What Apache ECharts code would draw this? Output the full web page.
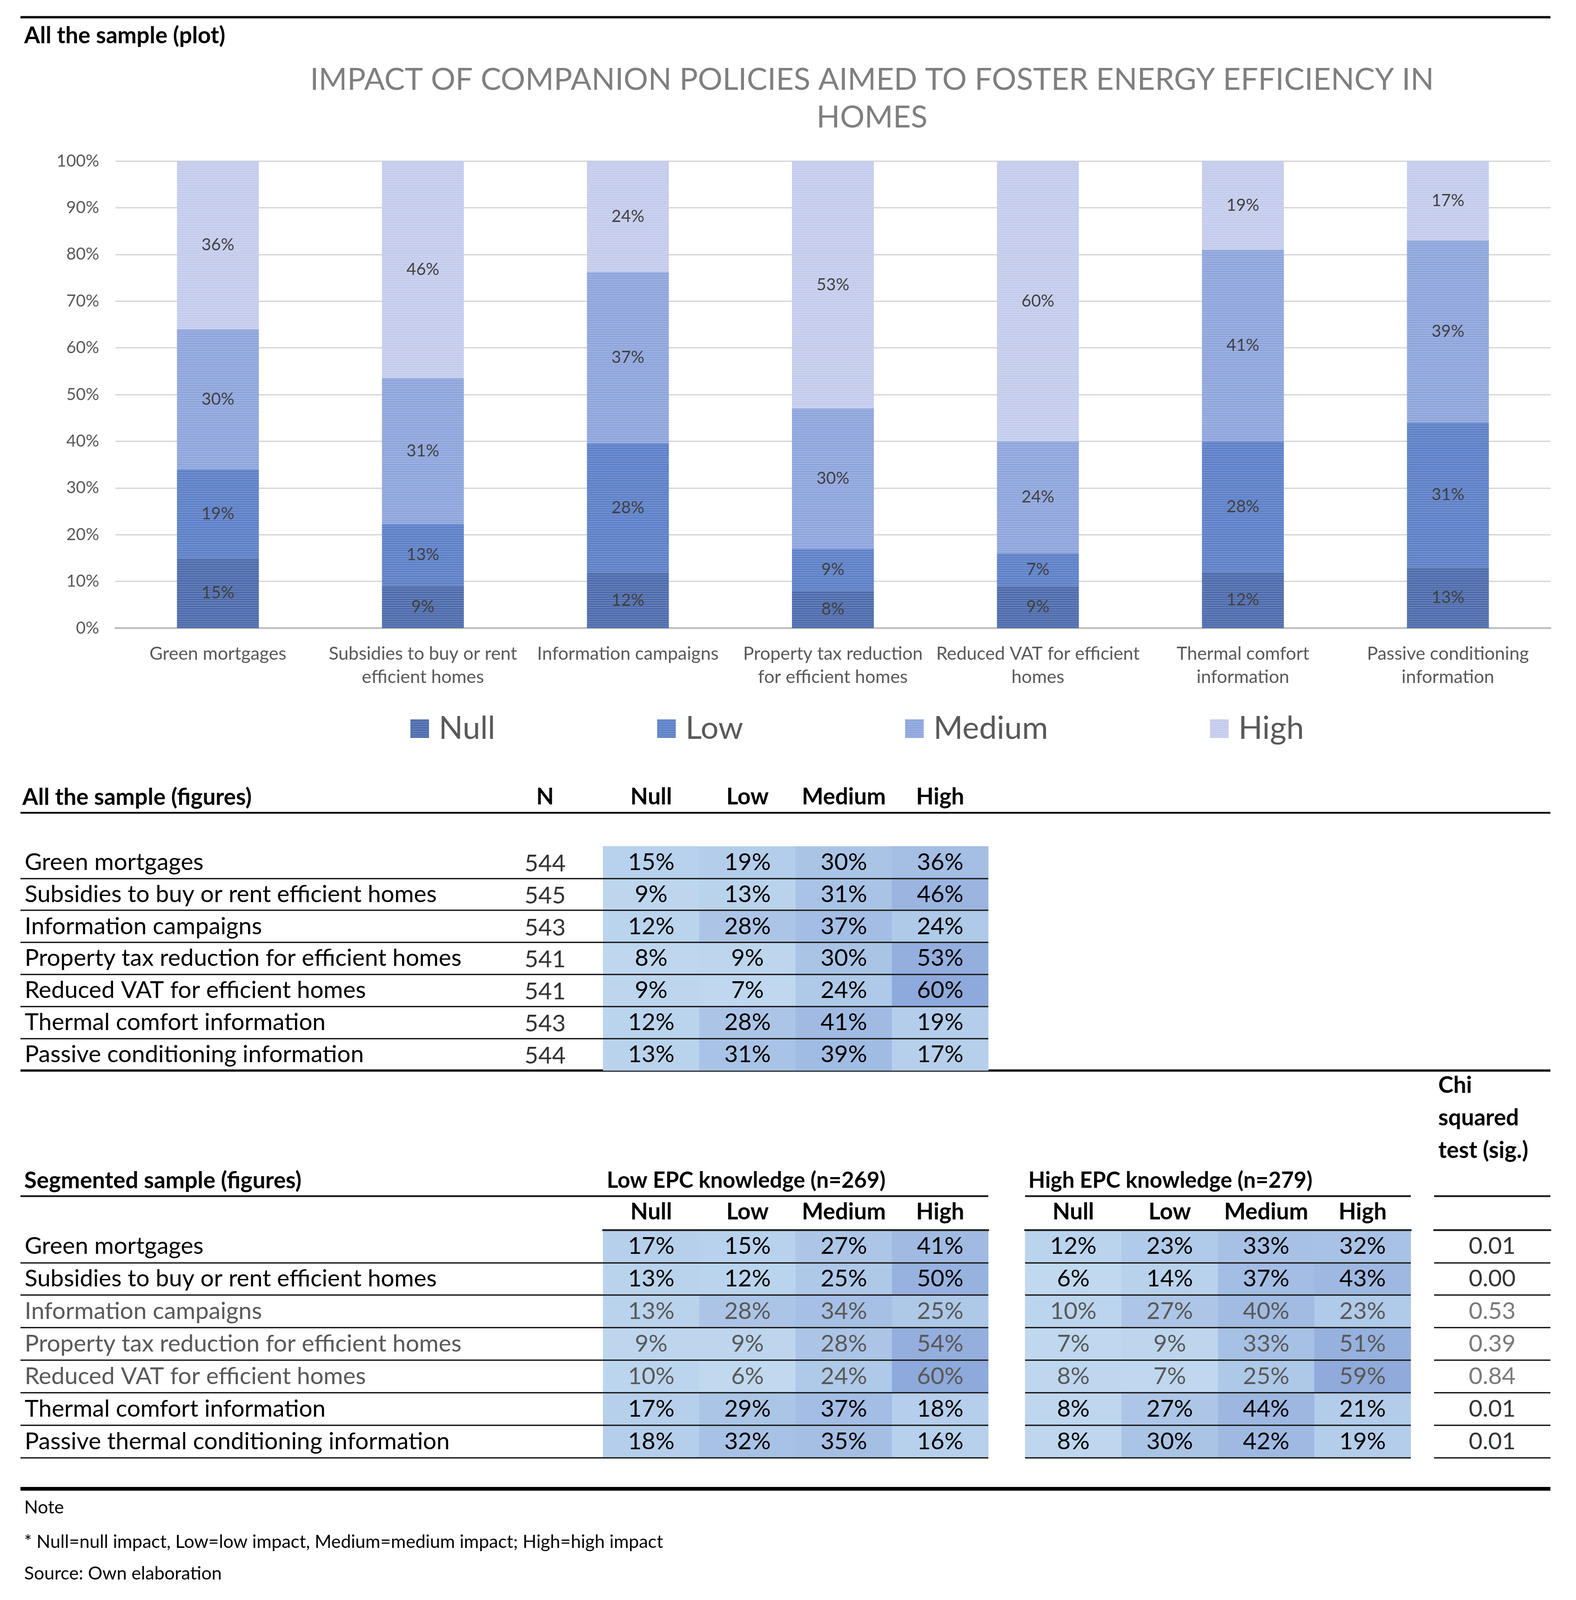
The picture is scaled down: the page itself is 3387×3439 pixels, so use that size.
<!DOCTYPE html>
<html><head><meta charset="utf-8">
<script src="https://cdn.jsdelivr.net/npm/echarts@6/dist/echarts.min.js"></script>
<style>html,body{margin:0;padding:0;background:#fff}#c{width:3387px;height:3439px}</style>
</head><body><div id="c"></div>
<script>
// ---------- DATA ----------
const chartCategories = ['Green mortgages','Subsidies to buy or rent efficient homes','Information campaigns','Property tax reduction for efficient homes','Reduced VAT for efficient homes','Thermal comfort information','Passive conditioning information'];
const chartTickLabels = ['Green mortgages','Subsidies to buy or rent\nefficient homes','Information campaigns','Property tax reduction\nfor efficient homes','Reduced VAT for efficient\nhomes','Thermal comfort\ninformation','Passive conditioning\ninformation'];
const levels = ['Null','Low','Medium','High'];
const yTicks = [0,10,20,30,40,50,60,70,80,90,100];
const allNull   = [15, 9,12, 8, 9,12,13];
const allLow    = [19,13,28, 9, 7,28,31];
const allMedium = [30,31,37,30,24,41,39];
const allHigh   = [36,46,24,53,60,19,17];
const allN      = [544,545,543,541,541,543,544];
const segRows = ['Green mortgages','Subsidies to buy or rent efficient homes','Information campaigns','Property tax reduction for efficient homes','Reduced VAT for efficient homes','Thermal comfort information','Passive thermal conditioning information'];
const lowEpcNull   = [17,13,13, 9,10,17,18];
const lowEpcLow    = [15,12,28, 9, 6,29,32];
const lowEpcMedium = [27,25,34,28,24,37,35];
const lowEpcHigh   = [41,50,25,54,60,18,16];
const highEpcNull   = [12, 6,10, 7, 8, 8, 8];
const highEpcLow    = [23,14,27, 9, 7,27,30];
const highEpcMedium = [33,37,40,33,25,44,42];
const highEpcHigh   = [32,43,23,51,59,21,19];
const chiSig = [0.01,0.00,0.53,0.39,0.84,0.01,0.01];

// ---------- STYLE ----------
const FONT = 'Lato, "Open Sans", sans-serif';
const barColors = ['#4b69ab','#5a7ec7','#8ca3dc','#c3cbec'];
const W = 3387;
const TF = 51;   // table font
const BF = 49;   // bold header font
const chart = echarts.init(document.getElementById('c'));

const allSets = [allNull, allLow, allMedium, allHigh];
const sums = chartCategories.map((_, i) => allSets.reduce((s, a) => s + a[i], 0));

const barSeries = levels.map((lv, k) => ({
  name: lv, type: 'bar', stack: 'all', xAxisIndex: 0, yAxisIndex: 0,
  barWidth: 176,
  data: allSets[k].map((v, i) => v * 100 / sums[i]),
  itemStyle: { color: barColors[k],
    decal: { symbol: 'rect', symbolSize: 1, dashArrayX: [[1, 0]], dashArrayY: [2, 3], rotation: 0, color: 'rgba(255,255,255,0.18)' } },
  label: { show: true, position: 'inside', color: '#404040', fontFamily: FONT, fontSize: 36,
    formatter: p => allSets[k][p.dataIndex] + '%' },
  emphasis: { disabled: true }
}));

function heatData(sets, rows, grayFn) {
  const out = [];
  sets.forEach((arr, k) => arr.forEach((v, i) => {
    out.push({ value: [levels[k], rows[i], v], label: { color: grayFn && grayFn(i) ? '#595959' : '#000' } });
  }));
  return out;
}
const nonSig = i => chiSig[i] > 0.05;

const cellLabel = { show: true, fontFamily: FONT, fontSize: TF, formatter: p => p.value[2] + '%' };
const boldHdr = { color: '#000', fontFamily: FONT, fontSize: BF, fontWeight: 'bold' };

const T1top = 1819, T1h = 482, T2top = 2644, T2h = 489;

const option = {
  backgroundColor: '#fff',
  animation: false,
  textStyle: { fontFamily: FONT },
  grid: [
    { left: 248, right: W - 3332, top: 346, height: 1004 },       // 0 chart
    { left: 44, width: 2080, top: T1top, height: T1h },             // 1 frame t1
    { left: 1089, width: 1035, top: T1top, height: T1h },           // 2 cells t1
    { left: 44, width: 2080, top: T2top, height: T2h },             // 3 frame t2
    { left: 1296, width: 828, top: T2top, height: T2h },            // 4 low epc
    { left: 2203, width: 829, top: T2top, height: T2h },            // 5 high epc
    { left: 3082, width: 250, top: T2top, height: T2h }             // 6 chi
  ],
  xAxis: [
    { gridIndex: 0, type: 'category', data: chartCategories,
      axisLine: { lineStyle: { color: '#bfbfbf', width: 4 } }, axisTick: { show: false },
      axisLabel: { interval: 0, color: '#595959', fontFamily: FONT, fontSize: 39, lineHeight: 50, margin: 30,
        formatter: (v, i) => chartTickLabels[i] } },
    { gridIndex: 1, type: 'value', show: false, min: 0, max: 1 },
    { gridIndex: 2, type: 'category', position: 'top', data: ['N'].concat(levels),
      axisLine: { show: false }, axisTick: { show: false },
      axisLabel: Object.assign({ interval: 0, margin: 81,
        formatter: v => v === 'N' ? '{n|N}' : v,
        rich: { n: { padding: [0, 42, 0, 0], fontFamily: FONT, fontSize: BF, fontWeight: 'bold', color: '#000' } } }, boldHdr) },
    { gridIndex: 3, type: 'value', show: false, min: 0, max: 1 },
    { gridIndex: 4, type: 'category', position: 'top', data: levels,
      axisLine: { show: true, lineStyle: { color: '#222', width: 4 } }, axisTick: { show: false },
      axisLabel: Object.assign({ interval: 0, margin: 14 }, boldHdr), z: 10 },
    { gridIndex: 5, type: 'category', position: 'top', data: levels,
      axisLine: { show: true, lineStyle: { color: '#222', width: 4 } }, axisTick: { show: false },
      axisLabel: Object.assign({ interval: 0, margin: 14 }, boldHdr), z: 10 },
    { gridIndex: 6, type: 'category', position: 'top', data: ['sig'],
      axisLine: { show: true, lineStyle: { color: '#222', width: 4 } }, axisTick: { show: false },
      axisLabel: { show: false }, z: 10 }
  ],
  yAxis: [
    { gridIndex: 0, type: 'value', min: yTicks[0], max: yTicks[yTicks.length - 1], interval: 10,
      axisLine: { show: false }, axisTick: { show: false },
      axisLabel: { formatter: '{value}%', color: '#595959', fontFamily: FONT, fontSize: 36, margin: 35 },
      splitLine: { lineStyle: { color: '#d9d9d9', width: 3 } } },
    { gridIndex: 1, type: 'category', data: chartCategories, inverse: true, z: 10,
      axisLine: { show: false }, axisTick: { show: false },
      axisLabel: { interval: 0, inside: true, align: 'left', margin: 9, color: '#000', fontFamily: FONT, fontSize: TF, padding: [6, 0, 0, 0] },
      splitLine: { show: true, interval: 0, showMinLine: false, showMaxLine: false, lineStyle: { color: '#222', width: 3 } } },
    { gridIndex: 2, type: 'category', data: chartCategories, inverse: true, show: false },
    { gridIndex: 3, type: 'category', data: segRows, inverse: true, z: 10,
      axisLine: { show: false }, axisTick: { show: false },
      axisLabel: { interval: 0, inside: true, align: 'left', margin: 9, fontFamily: FONT, fontSize: TF,
        color: (v, i) => nonSig(segRows.indexOf(v)) ? '#595959' : '#000' },
      splitLine: { show: true, interval: 0, showMinLine: false, showMaxLine: true, lineStyle: { color: '#222', width: 3 } } },
    { gridIndex: 4, type: 'category', data: segRows, inverse: true, axisLine: { show: false }, axisTick: { show: false }, axisLabel: { show: false } },
    { gridIndex: 5, type: 'category', data: segRows, inverse: true, z: 10,
      axisLine: { show: false }, axisTick: { show: false }, axisLabel: { show: false },
      splitLine: { show: true, interval: 0, showMinLine: false, showMaxLine: true, lineStyle: { color: '#222', width: 3 } } },
    { gridIndex: 6, type: 'category', data: segRows, inverse: true, z: 10,
      axisLine: { show: false }, axisTick: { show: false }, axisLabel: { show: false },
      splitLine: { show: true, interval: 0, showMinLine: false, showMaxLine: true, lineStyle: { color: '#222', width: 3 } } }
  ],
  legend: {
    data: levels, left: 877, top: 1527, icon: 'rect', itemWidth: 40, itemHeight: 40, itemGap: 348,
    selectedMode: false,
    textStyle: { color: '#595959', fontFamily: FONT, fontSize: 68, padding: [0, 0, 0, 16] }
  },
  visualMap: {
    type: 'continuous', show: false, min: 6, max: 60, dimension: 2, seriesIndex: [4, 6, 7],
    inRange: { color: ['#c0d9ef', '#8ea9db'] }
  },
  series: barSeries.concat([
    { type: 'heatmap', xAxisIndex: 2, yAxisIndex: 2, data: heatData(allSets, chartCategories), label: Object.assign({ padding: [6, 0, 0, 0] }, cellLabel), emphasis: { disabled: true } },
    { type: 'scatter', xAxisIndex: 2, yAxisIndex: 2, symbolSize: 0,
      data: allN.map((n, i) => ['N', chartCategories[i], n]),
      label: { show: true, position: 'inside', offset: [-21, 3], color: '#000', fontFamily: FONT, fontSize: TF, formatter: p => p.value[2] } },
    { type: 'heatmap', xAxisIndex: 4, yAxisIndex: 4, data: heatData([lowEpcNull, lowEpcLow, lowEpcMedium, lowEpcHigh], segRows, nonSig), label: cellLabel, emphasis: { disabled: true } },
    { type: 'heatmap', xAxisIndex: 5, yAxisIndex: 5, data: heatData([highEpcNull, highEpcLow, highEpcMedium, highEpcHigh], segRows, nonSig), label: cellLabel, emphasis: { disabled: true } },
    { type: 'scatter', xAxisIndex: 6, yAxisIndex: 6, symbolSize: 0,
      data: chiSig.map((c, i) => ({ value: ['sig', segRows[i], c], label: { color: nonSig(i) ? '#595959' : '#000' } })),
      label: { show: true, position: 'inside', fontFamily: FONT, fontSize: TF, formatter: p => p.value[2].toFixed(2) } }
  ]),
  graphic: [
    { type: 'line', shape: { x1: 44, y1: 37, x2: 3332, y2: 37 }, style: { stroke: '#000', lineWidth: 5 } },
    { type: 'text', x: 52, y: 77, style: { text: 'All the sample (plot)', fill: '#000', font: 'bold 49px ' + FONT, textVerticalAlign: 'middle' } },
    { type: 'text', x: 1874, y: 131, style: { text: 'IMPACT OF COMPANION POLICIES AIMED TO FOSTER ENERGY EFFICIENCY IN\nHOMES', fill: '#7f7f7f', font: '66px ' + FONT, textAlign: 'center', lineHeight: 81 } },
    // table 1
    { type: 'text', x: 48, y: 1714, style: { text: 'All the sample (figures)', fill: '#000', font: 'bold ' + BF + 'px ' + FONT, textVerticalAlign: 'middle' } },
    { type: 'line', shape: { x1: 44, y1: 1747, x2: 3332, y2: 1747 }, style: { stroke: '#111', lineWidth: 4 } },
    { type: 'line', shape: { x1: 44, y1: 2301, x2: 3332, y2: 2301 }, style: { stroke: '#111', lineWidth: 5 } },
    // table 2
    { type: 'text', x: 3091, y: 2298, style: { text: 'Chi\nsquared\ntest (sig.)', fill: '#000', font: 'bold ' + BF + 'px ' + FONT, lineHeight: 70 } },
    { type: 'text', x: 52, y: 2538, style: { text: 'Segmented sample (figures)', fill: '#000', font: 'bold ' + BF + 'px ' + FONT, textVerticalAlign: 'middle' } },
    { type: 'text', x: 1304, y: 2538, style: { text: 'Low EPC knowledge (n=269)', fill: '#000', font: 'bold 47px ' + FONT, textVerticalAlign: 'middle' } },
    { type: 'text', x: 2210, y: 2538, style: { text: 'High EPC knowledge (n=279)', fill: '#000', font: 'bold 47px ' + FONT, textVerticalAlign: 'middle' } },
    { type: 'line', shape: { x1: 44, y1: 2571, x2: 2124, y2: 2571 }, style: { stroke: '#222', lineWidth: 4 } },
    { type: 'line', shape: { x1: 2203, y1: 2571, x2: 3032, y2: 2571 }, style: { stroke: '#222', lineWidth: 4 } },
    { type: 'line', shape: { x1: 3082, y1: 2571, x2: 3332, y2: 2571 }, style: { stroke: '#222', lineWidth: 4 } },
    // notes
    { type: 'line', shape: { x1: 44, y1: 3200, x2: 3332, y2: 3200 }, style: { stroke: '#000', lineWidth: 8 } },
    { type: 'text', x: 52, y: 3240, style: { text: 'Note', fill: '#000', font: '39px ' + FONT, textVerticalAlign: 'middle' } },
    { type: 'text', x: 52, y: 3314, style: { text: '* Null=null impact, Low=low impact, Medium=medium impact; High=high impact', fill: '#000', font: '39px ' + FONT, textVerticalAlign: 'middle' } },
    { type: 'text', x: 52, y: 3382, style: { text: 'Source: Own elaboration', fill: '#000', font: '39px ' + FONT, textVerticalAlign: 'middle' } }
  ]
};
chart.setOption(option);
</script>
</body></html>
